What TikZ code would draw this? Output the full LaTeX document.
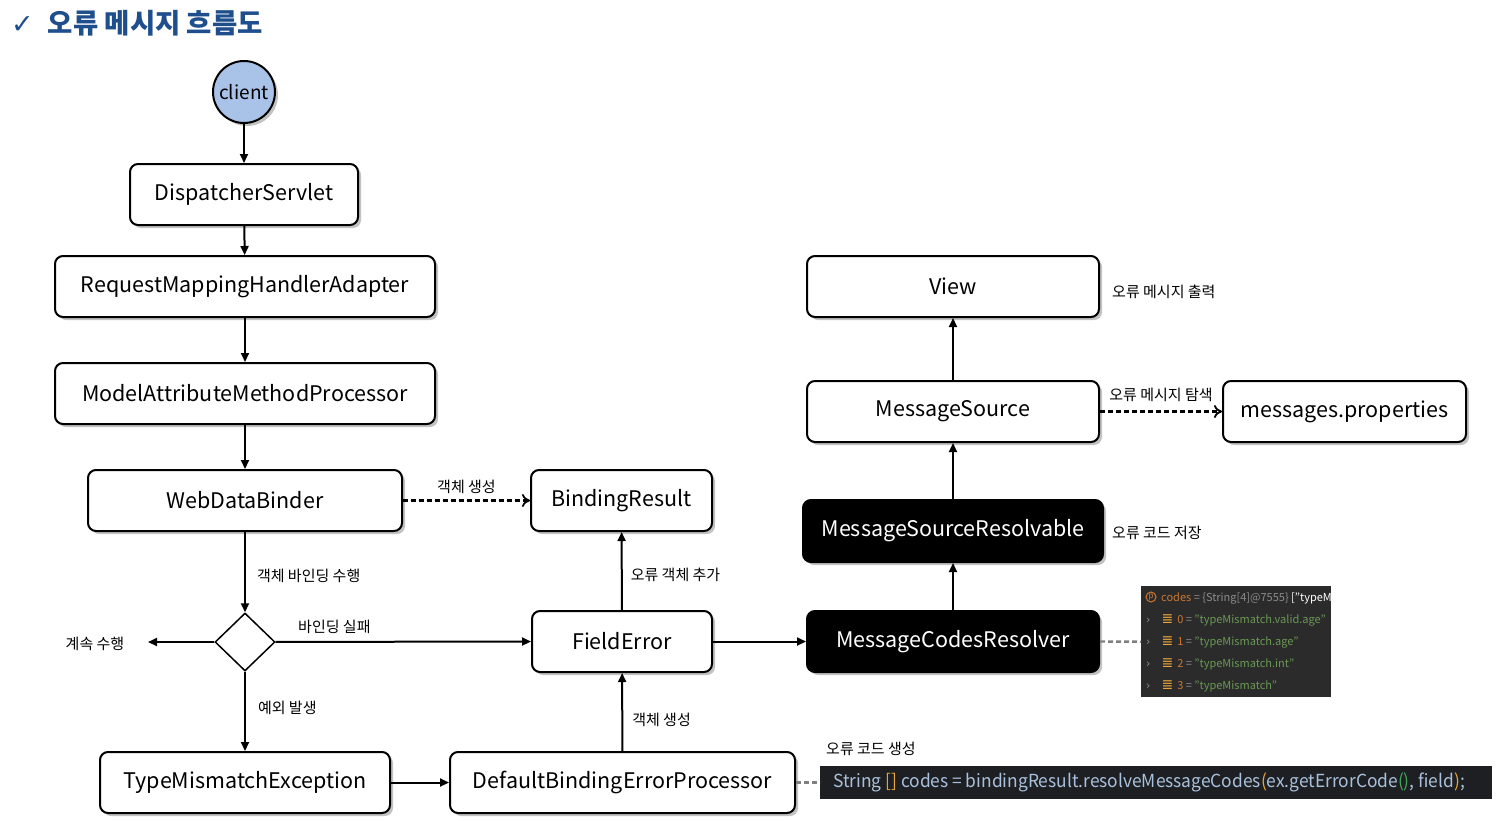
\documentclass[tikz,border=0pt]{standalone}
\usepackage{fontspec}
\usepackage{graphicx}
\setmainfont{Noto Sans CJK KR}
\newfontfamily\symfont{DejaVu Sans}
\usetikzlibrary{arrows.meta,shapes.geometric,shadows}
\definecolor{titleblue}{HTML}{1F4E8C}
\definecolor{clientblue}{HTML}{A9C2E8}
\definecolor{codebg}{HTML}{1E1F22}
\definecolor{codefg}{HTML}{A9C1DC}
\definecolor{codeor}{HTML}{E8A33A}
\definecolor{codegr}{HTML}{3FA85A}
\definecolor{panelbg}{HTML}{2B2B2B}
\definecolor{panelor}{HTML}{CC7832}
\definecolor{panelgr}{HTML}{6A9955}
\definecolor{panelgy}{HTML}{8C8C8C}
\definecolor{shadowgray}{HTML}{9A9A9A}
\begin{document}
\begin{tikzpicture}[x=1pt,y=-1pt,
  box/.style={draw=black,line width=2pt,rounded corners=8pt,fill=white,
    inner sep=0pt,minimum height=61pt,font=\fontsize{21.5}{24}\selectfont,
    drop shadow={shadow xshift=3pt,shadow yshift=-3pt,fill=shadowgray,opacity=0.6}},
  dbox/.style={box,fill=black,text=white},
  lbl/.style={font=\fontsize{15}{17}\selectfont,inner sep=0pt},
  arr/.style={-{Triangle[length=9pt,width=8pt]},line width=2pt},
  darr/.style={-{To[length=8pt,width=13pt,line width=1.8pt]},line width=2.2pt,dash pattern=on 5pt off 3pt},
  gline/.style={draw=gray,line width=2.4pt,dash pattern=on 5pt off 3pt},
  prow/.style={anchor=west,inner sep=0pt,font=\fontsize{11}{12}\selectfont}
]
\useasboundingbox (0,0) rectangle (1497,820);
% title
\node[anchor=west,inner sep=0pt,text=titleblue] (title) at (11,23)
  {{\symfont\fontsize{27}{28}\selectfont ✓}\hspace{14pt}{\fontsize{27.5}{30}\selectfont\bfseries 오류 메시지 흐름도}};
% client
\node[circle,draw=black,line width=2pt,fill=clientblue,minimum size=62pt,inner sep=0pt,
  font=\fontsize{19}{22}\selectfont,drop shadow={shadow xshift=3pt,shadow yshift=-3pt,fill=shadowgray,opacity=0.6}] (client) at (244,92) {client};
% left column
\node[box,minimum width=228pt] (ds) at (244,194.5) {DispatcherServlet};
\node[box,minimum width=380pt] (rmha) at (245,286.5) {RequestMappingHandlerAdapter};
\node[box,minimum width=380pt] (mamp) at (245,393.5) {ModelAttributeMethodProcessor};
\node[box,minimum width=314pt] (wdb) at (245,500.5) {WebDataBinder};
\node[box,minimum width=181pt] (br) at (621.5,500.5) {BindingResult};
\node[diamond,draw=black,line width=1.5pt,fill=white,minimum width=60pt,minimum height=58pt,inner sep=0pt] (dec) at (245,642) {};
\coordinate (cont) at (148,642);
\node[lbl,anchor=center] (contl) at (95,644) {계속 수행};
\node[box,minimum width=180pt] (fe) at (622,641.5) {FieldError};
\node[box,minimum width=290pt] (tme) at (245,782.5) {TypeMismatchException};
\node[box,minimum width=345pt] (dbep) at (622.5,782.5) {DefaultBindingErrorProcessor};
% right column
\node[dbox,minimum width=292pt] (mcr) at (953,641.5) {MessageCodesResolver};
\node[dbox,minimum width=300pt,minimum height=62pt] (msr) at (953,531) {MessageSourceResolvable};
\node[box,minimum width=292pt] (ms) at (953,411.5) {MessageSource};
\node[box,minimum width=292pt] (view) at (953,286.5) {View};
\node[box,minimum width=243pt] (mp) at (1344.5,411.5) {messages.properties};
% code bar
\node[fill=codebg,minimum width=672pt,minimum height=33pt,inner sep=0pt,anchor=west] (code) at (820,782.5) {};
\node[anchor=west,inner sep=0pt,text=codefg] (codet) at (833,782.5)
  {\scalebox{0.965}[1]{\fontsize{18}{20}\selectfont String {\color{codeor}[]} codes = bindingResult.resolveMessageCodes{\color{codeor}(}ex.getErrorCode{\color{codegr}()}, field{\color{codeor})};}};
% debug panel
\node[fill=panelbg,minimum width=190pt,minimum height=111pt,inner sep=0pt,anchor=north west] (panel) at (1141,586) {};
\begin{scope}
\clip (1141,586) rectangle (1331,697);
\node[circle,draw=panelor,line width=1pt,inner sep=0.6pt,minimum size=10pt,text=panelor,font=\fontsize{8}{9}\selectfont] (picon) at (1151,597) {p};
\node[prow] (p0) at (1161,598)
  {{\color{panelor}codes} {\color{panelgy}= \{String[4]@7555\}} {\color{white}["typeMismatch.valid.age"]}};
\node[prow] (p1) at (1146,620)
  {{\color{panelgy}\symfont ›}\hspace{11pt}{\color{codeor}\symfont\fontsize{14}{14}\selectfont ≣}\hspace{4pt}{\color{panelor}0} {\color{panelgy}=} {\color{panelgr}"typeMismatch.valid.age"}};
\node[prow] (p2) at (1146,642)
  {{\color{panelgy}\symfont ›}\hspace{11pt}{\color{codeor}\symfont\fontsize{14}{14}\selectfont ≣}\hspace{4pt}{\color{panelor}1} {\color{panelgy}=} {\color{panelgr}"typeMismatch.age"}};
\node[prow] (p3) at (1146,664)
  {{\color{panelgy}\symfont ›}\hspace{11pt}{\color{codeor}\symfont\fontsize{14}{14}\selectfont ≣}\hspace{4pt}{\color{panelor}2} {\color{panelgy}=} {\color{panelgr}"typeMismatch.int"}};
\node[prow] (p4) at (1146,686)
  {{\color{panelgy}\symfont ›}\hspace{11pt}{\color{codeor}\symfont\fontsize{14}{14}\selectfont ≣}\hspace{4pt}{\color{panelor}3} {\color{panelgy}=} {\color{panelgr}"typeMismatch"}};
\end{scope}
% connectors
\draw[arr] (client) -- (ds);
\draw[arr] (ds) -- (rmha);
\draw[arr] (rmha) -- (mamp);
\draw[arr] (mamp) -- (wdb);
\draw[darr] (wdb) -- node[lbl,above=6pt] {객체 생성} (br);
\draw[arr] (wdb) -- node[lbl,anchor=west,pos=0.55,xshift=11pt] {객체 바인딩 수행} (dec);
\draw[arr] (dec) -- (cont);
\draw[arr] (dec) -- node[lbl,above=7pt,pos=0.23] {바인딩 실패} (fe.west);
\draw[arr] (dec) -- node[lbl,anchor=west,pos=0.45,xshift=12pt] {예외 발생} (tme);
\draw[arr] (tme) -- (dbep);
\draw[arr] (dbep) -- node[lbl,anchor=west,pos=0.4,xshift=9pt] {객체 생성} (fe);
\draw[arr] (fe) -- node[lbl,anchor=west,pos=0.45,xshift=8pt] {오류 객체 추가} (br);
\draw[arr] (fe) -- (mcr);
\draw[arr] (mcr) -- (msr);
\draw[arr] (msr) -- (ms);
\draw[arr] (ms) -- (view);
\draw[darr] (ms) -- node[lbl,above=9pt] {오류 메시지 탐색} (mp);
\draw[gline] (dbep.east) -- (code.west);
\draw[gline] (mcr.east) -- (panel.west);
% side labels
\node[lbl,anchor=west] (lview) at (1112,292) {오류 메시지 출력};
\node[lbl,anchor=west] (lmsr) at (1112,533) {오류 코드 저장};
\node[lbl,anchor=west] (lcode) at (826,749) {오류 코드 생성};
\end{tikzpicture}
\end{document}
